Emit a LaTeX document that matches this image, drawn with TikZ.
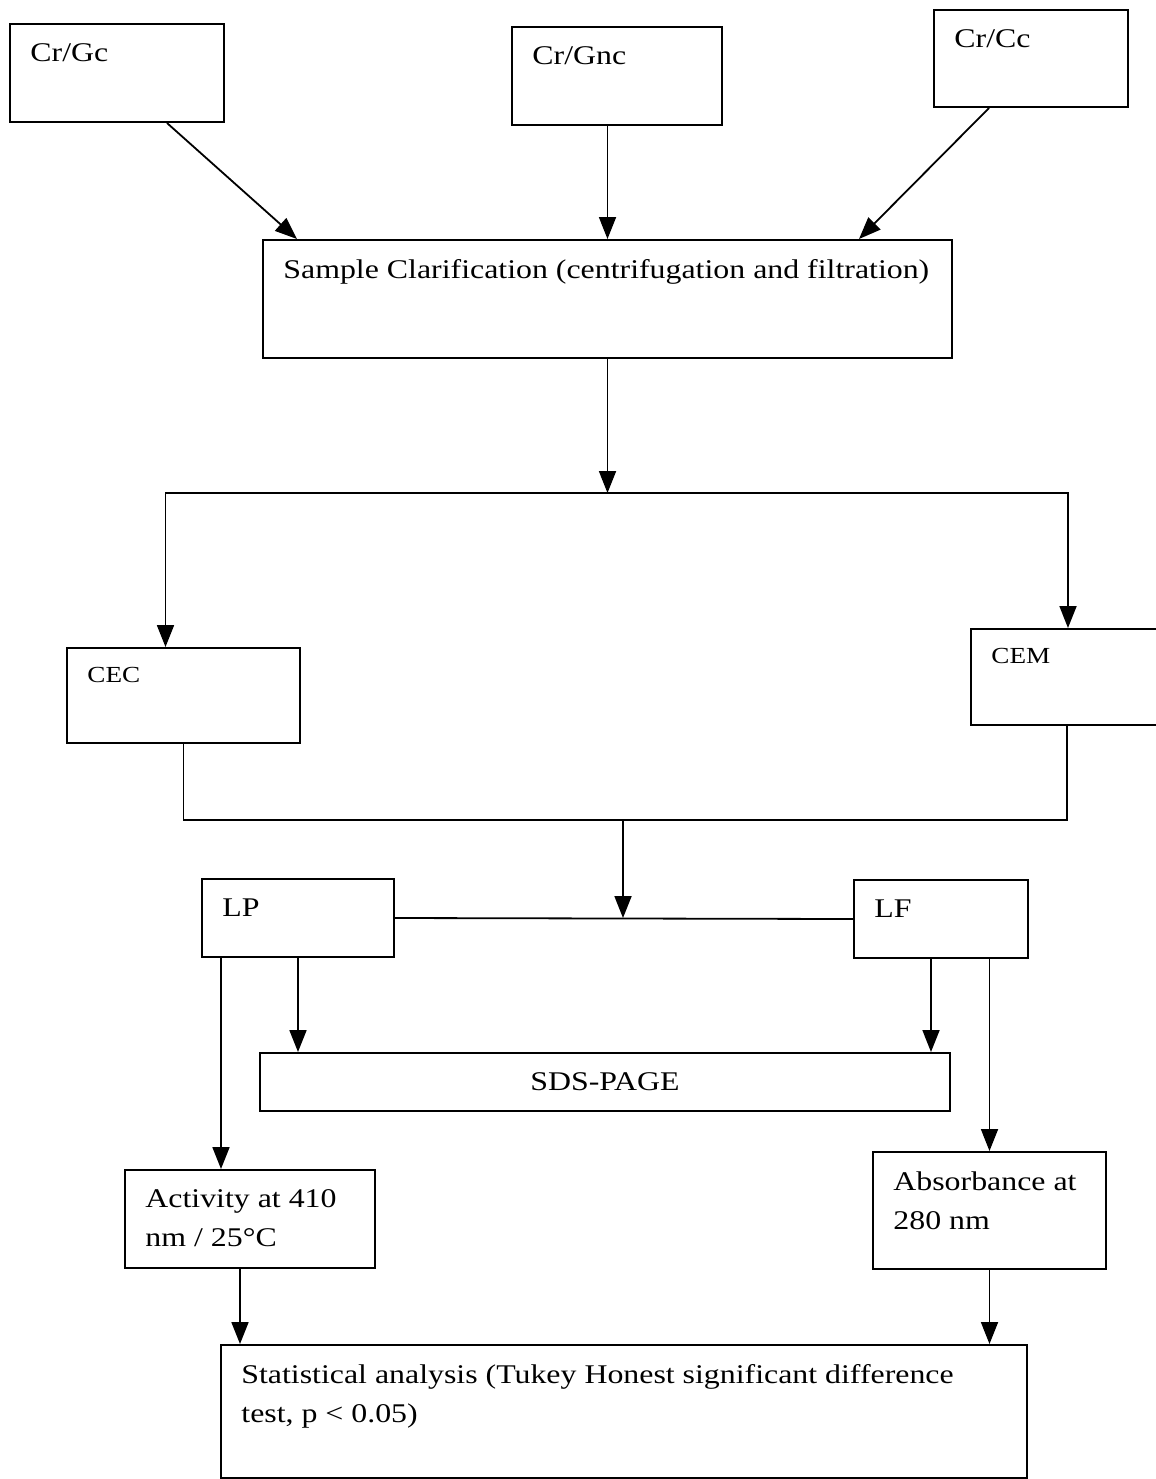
\documentclass[tikz,border=0pt]{standalone}
\usepackage{fontspec}
\setmainfont{Liberation Serif}[FakeStretch=1.18]
\usetikzlibrary{arrows.meta,positioning,calc}

\begin{document}
\begin{tikzpicture}[
          x=0.5pt,y=-0.5pt,
          bx/.style={draw,line width=1pt,anchor=north west,inner sep=0pt,
                     font=\fontsize{13.5}{19.5}\selectfont},
          tx/.style={anchor=north west,inner sep=0pt,align=left,
                     xshift=10.5pt,yshift=-10pt,font=\fontsize{13.5}{19.5}\selectfont},
          sm/.style={tx,font=\fontsize{11.5}{14}\selectfont},
          ln/.style={line width=0.9pt},
          ar/.style={ln,-{Triangle[length=11pt,width=8.5pt]}}
        ]
          \useasboundingbox (0,0) rectangle (1156,1479);

          \node(gc)[bx,minimum width=107pt,minimum height=49pt,label={[tx]north west:Cr/Gc}] at (9,23) {};
          \node(gnc)[bx,minimum width=105pt,minimum height=49pt,label={[tx]north west:Cr/Gnc}] at (511,26) {};
          \node(cc)[bx,minimum width=97pt,minimum height=48.5pt,label={[tx]north west:Cr/Cc}] at (933,9) {};
          \node(sample)[bx,minimum width=344.5pt,minimum height=59pt,
                label={[tx]north west:Sample Clarification (centrifugation and filtration)}] at (262,239) {};
          \node(cec)[bx,minimum width=116.5pt,minimum height=47.5pt,label={[sm]north west:CEC}] at (66,647) {};
          \node(cem)[bx,minimum width=100pt,minimum height=48pt,label={[sm]north west:CEM}] at (970,628) {};
          \node(lp)[bx,minimum width=96pt,minimum height=39pt,label={[tx]north west:LP}] at (201,878) {};
          \node(lf)[bx,minimum width=87pt,minimum height=39pt,label={[tx]north west:LF}] at (853,879) {};
          \node(sds)[bx,minimum width=345pt,minimum height=29pt] at (259,1052) {SDS-PAGE};
          \node(act)[bx,minimum width=125pt,minimum height=49pt,
                label={[tx]north west:Activity at 410\\nm / 25°C}] at (124,1169) {};
          \node(abs)[bx,minimum width=116.5pt,minimum height=58.5pt,
                label={[tx]north west:Absorbance at\\280 nm}] at (872,1151) {};
          \node(stat)[bx,minimum width=403pt,minimum height=66.5pt,
                label={[tx]north west:Statistical analysis (Tukey Honest significant difference\\test, p < 0.05)}] at (220,1344) {};

          \coordinate(sp) at (605,493);
          \coordinate(mg) at (623,820);

          \draw[ar] (gc.-45) -- ([xshift=17.5pt]sample.north west);
          \draw[ar] (sample.north |- gnc.south) -- (sample.north);
          \draw[ar] ([xshift=-21pt]cc.south) -- ([xshift=-47pt]sample.north east);
          \draw[ar] (sample.south) -- (sample.south |- sp);
          \draw[ar] (sp) -| ([xshift=-9pt]cec.north);
          \draw[ar] (sp) -| ([xshift=-1.5pt]cem.north);
          \draw[ln] (cec.south) |- (mg) -| ([xshift=-2pt]cem.south);
          \draw[ar] (mg) -- (mg |- lp.east);
          \draw[ln] (lp.east) -- (lf.west);
          \draw[ar] (lp.south) -- (lp.south |- sds.north);
          \draw[ar] ([xshift=10pt]lp.south west) -- ([xshift=10pt]lp.south west |- act.north);
          \draw[ar] ([xshift=-5pt]lf.south) -- ([xshift=-5pt]lf.south |- sds.north);
          \draw[ar] (abs.north |- lf.south) -- (abs.north);
          \draw[ar] ([xshift=-5pt]act.south) -- ([xshift=-5pt]act.south |- stat.north);
          \draw[ar] (abs.south) -- (abs.south |- stat.north);
        \end{tikzpicture}
\end{document}
